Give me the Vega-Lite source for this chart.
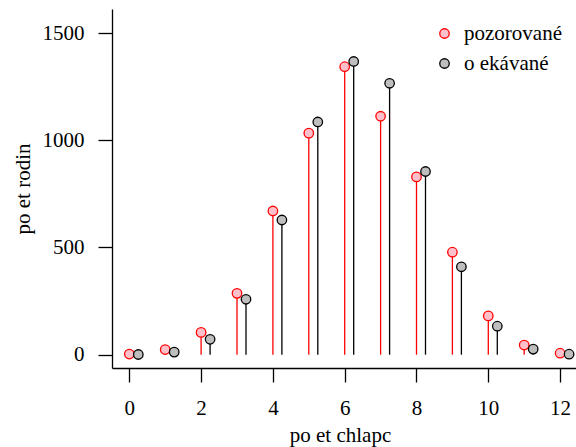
{
  "$schema": "https://vega.github.io/schema/vega-lite/v6.json",
  "width": 464,
  "height": 359,
  "autosize": {"type": "none"},
  "padding": {"left": 112, "top": 9, "right": 0, "bottom": 79},
  "background": "white",
  "config": {
    "view": {"stroke": null},
    "font": "Liberation Serif",
    "axis": {"labelFont": "Liberation Serif", "titleFont": "Liberation Serif", "labelFontSize": 21, "titleFontSize": 21, "titleFontWeight": "normal", "labelColor": "black", "titleColor": "black", "tickColor": "black", "domainColor": "black", "tickSize": 14, "tickWidth": 1.3, "domainWidth": 1.3, "grid": false},
    "legend": {"labelFont": "Liberation Serif", "labelFontSize": 21, "labelColor": "black"}
  },
  "data": {
    "values": [
      {"k": 0, "typ": "pozorované", "pocet": 3},
      {"k": 1, "typ": "pozorované", "pocet": 24},
      {"k": 2, "typ": "pozorované", "pocet": 104},
      {"k": 3, "typ": "pozorované", "pocet": 286},
      {"k": 4, "typ": "pozorované", "pocet": 670},
      {"k": 5, "typ": "pozorované", "pocet": 1033},
      {"k": 6, "typ": "pozorované", "pocet": 1343},
      {"k": 7, "typ": "pozorované", "pocet": 1112},
      {"k": 8, "typ": "pozorované", "pocet": 829},
      {"k": 9, "typ": "pozorované", "pocet": 478},
      {"k": 10, "typ": "pozorované", "pocet": 181},
      {"k": 11, "typ": "pozorované", "pocet": 45},
      {"k": 12, "typ": "pozorované", "pocet": 7},
      {"k": 0, "typ": "o ekávané", "pocet": 0.93},
      {"k": 1, "typ": "o ekávané", "pocet": 12.09},
      {"k": 2, "typ": "o ekávané", "pocet": 71.8},
      {"k": 3, "typ": "o ekávané", "pocet": 258.48},
      {"k": 4, "typ": "o ekávané", "pocet": 628.06},
      {"k": 5, "typ": "o ekávané", "pocet": 1085.21},
      {"k": 6, "typ": "o ekávané", "pocet": 1367.28},
      {"k": 7, "typ": "o ekávané", "pocet": 1265.63},
      {"k": 8, "typ": "o ekávané", "pocet": 854.25},
      {"k": 9, "typ": "o ekávané", "pocet": 410.01},
      {"k": 10, "typ": "o ekávané", "pocet": 132.84},
      {"k": 11, "typ": "o ekávané", "pocet": 26.08},
      {"k": 12, "typ": "o ekávané", "pocet": 2.35}
    ]
  },
  "encoding": {
    "x": {"field": "k", "type": "quantitative", "scale": {"domain": [-0.482, 12.443], "nice": false, "zero": false},
      "axis": {"values": [0, 2, 4, 6, 8, 10, 12], "format": "d", "labelPadding": 15, "labelFlush": false, "labelOverlap": false, "title": "po et chlapc", "titleX": 228, "titleY": 73, "titleBaseline": "alphabetic", "titleAnchor": null}},
    "y": {"field": "pocet", "type": "quantitative", "scale": {"domain": [-62, 1612], "nice": false, "zero": false},
      "axis": {"values": [0, 500, 1000, 1500], "format": "d", "labelPadding": 14, "labelFlush": false, "labelOverlap": false, "title": "po et rodin", "titleX": -83, "titleBaseline": "alphabetic"}}
  },
  "layer": [
    {
      "transform": [{"filter": "datum.typ == 'pozorované'"}],
      "mark": {"type": "rule", "color": "#FF0000", "strokeWidth": 1.3},
      "encoding": {"y2": {"datum": 0}}
    },
    {
      "transform": [{"filter": "datum.typ != 'pozorované'"}],
      "mark": {"type": "rule", "color": "black", "strokeWidth": 1.3, "xOffset": 9, "x2Offset": 9},
      "encoding": {"y2": {"datum": 0}}
    },
    {
      "transform": [{"filter": "datum.typ == 'pozorované'"}],
      "mark": {"type": "point", "filled": false, "size": 90, "strokeWidth": 1.3, "opacity": 1},
      "encoding": {
        "fill": {"field": "typ", "type": "nominal", "scale": {"domain": ["pozorované", "o ekávané"], "range": ["#FFC0CB", "#BEBEBE"]}, "legend": {"title": null, "orient": "none", "legendX": 322, "legendY": 14, "symbolSize": 90, "symbolStrokeWidth": 1.3, "labelOffset": 9, "rowPadding": 8, "padding": 0, "symbolType": "circle", "labelFont": "Liberation Serif", "labelFontSize": 21}},
        "stroke": {"field": "typ", "type": "nominal", "scale": {"domain": ["pozorované", "o ekávané"], "range": ["#FF0000", "#000000"]}, "legend": {"title": null, "orient": "none", "legendX": 322, "legendY": 14, "symbolSize": 90, "symbolStrokeWidth": 1.3, "labelOffset": 9, "rowPadding": 8, "padding": 0, "symbolType": "circle", "labelFont": "Liberation Serif", "labelFontSize": 21}}
      }
    },
    {
      "transform": [{"filter": "datum.typ != 'pozorované'"}],
      "mark": {"type": "point", "filled": false, "size": 90, "strokeWidth": 1.3, "opacity": 1, "xOffset": 9},
      "encoding": {
        "fill": {"field": "typ", "type": "nominal"},
        "stroke": {"field": "typ", "type": "nominal"}
      }
    },
    {
      "data": {"values": [{"edge": "top"}]},
      "mark": {"type": "rule", "color": "black", "strokeWidth": 1.3},
      "encoding": {"x": null, "y": {"datum": 1612}}
    }
  ]
}
